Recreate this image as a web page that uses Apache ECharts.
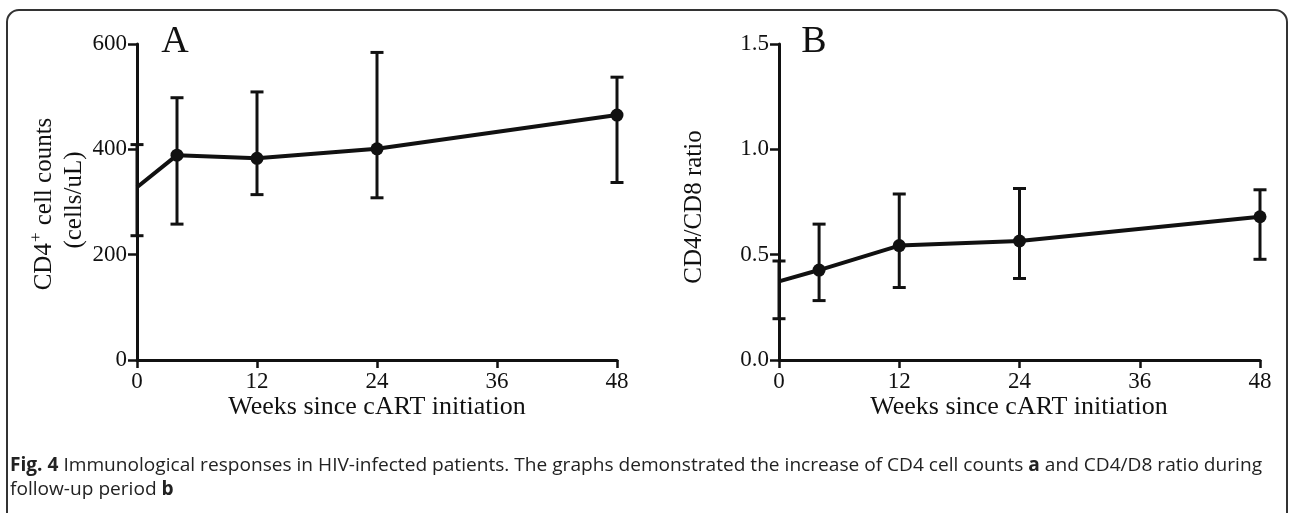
<!DOCTYPE html>
<html><head><meta charset="utf-8">
<script src="https://cdn.jsdelivr.net/npm/echarts@6/dist/echarts.min.js"></script>
<style>html,body{margin:0;padding:0;background:#fff}#c{width:1290px;height:513px}</style>
</head><body><div id="c"></div>
<script>
const weeks = [0, 4, 12, 24, 48];
const cd4Mean = [328, 389, 383, 401, 465];
const cd4Low = [236, 258, 314, 308, 337];
const cd4High = [409, 498, 509, 584, 537];
const ratioMean = [0.373, 0.427, 0.543, 0.565, 0.680];
const ratioLow = [0.196, 0.282, 0.344, 0.387, 0.478];
const ratioHigh = [0.470, 0.645, 0.788, 0.814, 0.808];
const xTickLabels = ['0', '12', '24', '36', '48'];
const cd4TickLabels = ['0', '200', '400', '600'];
const ratioTickLabels = ['0.0', '0.5', '1.0', '1.5'];
const panelLetters = ['A', 'B'];
const xTitle = 'Weeks since cART initiation';
const captionBold1 = 'Fig. 4';
const captionText1 = ' Immunological responses in HIV-infected patients. The graphs demonstrated the increase of CD4 cell counts ';
const captionBold2 = 'a';
const captionText2 = ' and CD4/D8 ratio during';
const captionText3 = 'follow-up period ';
const captionBold3 = 'b';

const ink = '#111';
const serif = '"Liberation Serif", "Times New Roman", serif';
const sans = '"Open Sans", "Noto Sans", sans-serif';

const chart = echarts.init(document.getElementById('c'), null, {renderer: 'canvas'});

function axisX(gi) {
  return {
    type: 'value', gridIndex: gi, min: 0, max: 48, interval: 12,
    axisLine: {lineStyle: {color: ink, width: 3}},
    axisTick: {length: 8, lineStyle: {color: ink, width: 2.5}},
    axisLabel: {color: ink, fontFamily: serif, fontSize: 23, margin: 10,
      formatter: v => xTickLabels[Math.round(v / 12)]},
    splitLine: {show: false}
  };
}
function axisY(gi, max, interval, labels) {
  return {
    type: 'value', gridIndex: gi, min: 0, max: max, interval: interval,
    axisLine: {show: true, lineStyle: {color: ink, width: 3}},
    axisTick: {show: true, length: 9, lineStyle: {color: ink, width: 2.5}},
    axisLabel: {color: ink, fontFamily: serif, fontSize: 23, margin: 10,
      formatter: v => labels[Math.round(v / interval)]},
    splitLine: {show: false}
  };
}
function errSeries(gi, low, high) {
  return {
    type: 'custom', xAxisIndex: gi, yAxisIndex: gi, clip: false, z: 3,
    data: weeks.map((w, i) => [w, low[i], high[i]]),
    renderItem: function (params, api) {
      const x = api.value(0);
      const p1 = api.coord([x, api.value(1)]);
      const p2 = api.coord([x, api.value(2)]);
      const hw = 6.5;
      const st = {stroke: ink, lineWidth: 3};
      return {type: 'group', children: [
        {type: 'line', shape: {x1: p1[0], y1: p1[1], x2: p2[0], y2: p2[1]}, style: st},
        {type: 'line', shape: {x1: p1[0] - hw, y1: p1[1], x2: p1[0] + hw, y2: p1[1]}, style: st},
        {type: 'line', shape: {x1: p2[0] - hw, y1: p2[1], x2: p2[0] + hw, y2: p2[1]}, style: st}
      ]};
    }
  };
}
function lineSeries(gi, mean) {
  return {
    type: 'line', xAxisIndex: gi, yAxisIndex: gi, z: 4,
    symbol: 'circle', symbolSize: 13,
    itemStyle: {color: ink},
    lineStyle: {color: ink, width: 4},
    data: weeks.map((w, i) => i === 0 ? {value: [w, mean[i]], symbol: 'none'} : [w, mean[i]]),
    animation: false
  };
}

const mctx = document.createElement('canvas').getContext('2d');
function tw(t, f) { mctx.font = f; return mctx.measureText(t).width; }
const capSize = 19;
const fB = 'bold ' + capSize + 'px "Open Sans"';
const fN = capSize + 'px "Open Sans"';
const line1W = tw(captionBold1, fB) + tw(captionText1, fN) + tw(captionBold2, fB) + tw(captionText2, fN);
const capScale = 1252 / line1W;

const richCap = {
  b: {fontFamily: sans, fontWeight: 'bold', fontSize: capSize, fill: '#222'},
  n: {fontFamily: sans, fontSize: capSize, fill: '#222'}
};

chart.setOption({
  animation: false,
  grid: [
    {left: 137, top: 44, width: 480, height: 316},
    {left: 779, top: 44, width: 481, height: 316}
  ],
  xAxis: [axisX(0), axisX(1)],
  yAxis: [axisY(0, 600, 200, cd4TickLabels), axisY(1, 1.5, 0.5, ratioTickLabels)],
  series: [
    errSeries(0, cd4Low, cd4High), lineSeries(0, cd4Mean),
    errSeries(1, ratioLow, ratioHigh), lineSeries(1, ratioMean)
  ],
  graphic: [
    {type: 'rect', shape: {x: 7, y: 10, width: 1280, height: 515, r: 12},
      style: {fill: 'none', stroke: '#333', lineWidth: 2}, z: -1, silent: true},
    {type: 'text', x: 175, y: 42, style: {text: panelLetters[0], font: '38px ' + serif, fill: ink, textAlign: 'center', textVerticalAlign: 'middle'}},
    {type: 'text', x: 814, y: 42, style: {text: panelLetters[1], font: '38px ' + serif, fill: ink, textAlign: 'center', textVerticalAlign: 'middle'}},
    {type: 'text', x: 44, y: 204, rotation: Math.PI / 2,
      style: {text: '{a|CD4}{s|+}{a| cell counts}', textAlign: 'center', textVerticalAlign: 'middle',
        rich: {a: {fontFamily: serif, fontSize: 25, fill: ink}, s: {fontFamily: serif, fontSize: 17, fill: ink, padding: [0, 1, 14, 1]}}}},
    {type: 'text', x: 74, y: 200, rotation: Math.PI / 2,
      style: {text: '(cells/uL)', font: '25px ' + serif, fill: ink, textAlign: 'center', textVerticalAlign: 'middle'}},
    {type: 'text', x: 694, y: 207, rotation: Math.PI / 2,
      style: {text: 'CD4/CD8 ratio', font: '25px ' + serif, fill: ink, textAlign: 'center', textVerticalAlign: 'middle'}},
    {type: 'text', x: 377, y: 407, style: {text: xTitle, font: '26px ' + serif, fill: ink, textAlign: 'center', textVerticalAlign: 'middle'}},
    {type: 'text', x: 1019, y: 407, style: {text: xTitle, font: '26px ' + serif, fill: ink, textAlign: 'center', textVerticalAlign: 'middle'}},
    {type: 'text', x: 10, y: 466, scaleX: capScale,
      style: {text: '{b|' + captionBold1 + '}{n|' + captionText1 + '}{b|' + captionBold2 + '}{n|' + captionText2 + '}',
        textAlign: 'left', textVerticalAlign: 'middle', rich: richCap}},
    {type: 'text', x: 10, y: 490, scaleX: capScale,
      style: {text: '{n|' + captionText3 + '}{b|' + captionBold3 + '}',
        textAlign: 'left', textVerticalAlign: 'middle', rich: richCap}}
  ]
});
</script></body></html>
